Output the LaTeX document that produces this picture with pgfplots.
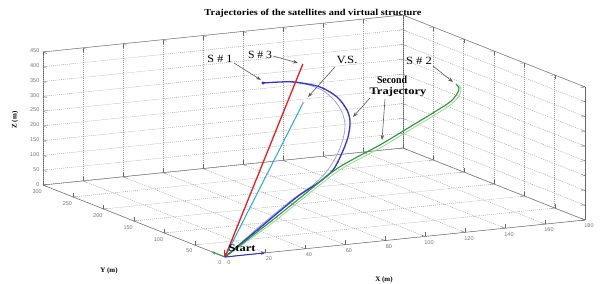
\documentclass[border=0pt]{standalone}
\usepackage{fontspec}
\setmainfont{Liberation Serif}
\setsansfont{Liberation Sans}
\usepackage{pgfplots}
\pgfplotsset{compat=1.18}
\usetikzlibrary{arrows.meta}
\definecolor{sblue}{RGB}{50,50,210}
\definecolor{slilac}{RGB}{160,160,238}
\definecolor{sgreen}{RGB}{40,150,50}
\definecolor{slgreen}{RGB}{150,215,150}
\definecolor{scyan}{RGB}{40,170,215}
\definecolor{sred}{RGB}{235,30,30}
\definecolor{annot}{RGB}{90,90,90}
\begin{document}
\begin{tikzpicture}
\begin{axis}[
  x={(2.0pt,0.2056pt)}, y={(-0.607pt,0.24pt)}, z={(0pt,0.2956pt)},
  xmin=0, xmax=180, ymin=0, ymax=300, zmin=0, zmax=450,
  xtick={0,20,...,180}, ytick={0,50,...,300}, ztick={0,50,...,450},
  grid=major,
  major grid style={dash pattern=on 1pt off 1pt, gray!80, line width=0.4pt},
  axis line style={gray!80!black, line width=0.45pt},
  tick style={gray!80!black},
  tick label style={font=\sffamily\fontsize{5.5}{6}\selectfont, text=gray!90!black},
  /pgf/number format/assume math mode=true,
  clip=false,
]
% second trajectory (S#1)
\addplot3[slilac, line width=0.8pt, smooth, no markers] coordinates {
 (0,0,0) (37.6,66.2,25) (68.9,114.9,55) (82.0,125.1,85) (92.7,137.3,115)
 (100.8,147.7,155) (107.4,159.5,195) (111.9,170.9,230) (114.8,185.6,260)
 (114.8,198.7,290) (112.6,211.4,315) (106.0,217.4,335) (100.0,222.3,342)
};
% second trajectory (S#2)
\addplot3[slgreen, line width=0.8pt, smooth, no markers] coordinates {
 (0,0,0) (42.5,64.2,30) (68.1,99.1,65) (99.4,139.7,110) (124.3,152.7,160)
 (145.6,168.5,200) (155.2,167.1,235) (164.1,168.4,265) (168.4,169.4,290)
 (171.8,177.2,305) (172.0,181.3,315)
};
% S#1
\addplot3[sblue, line width=1.3pt, smooth, no markers] coordinates {
 (0,0,0) (38.4,65.5,25) (72.5,120.2,55) (85.9,130.0,85) (96.1,138.6,115)
 (104.8,152.6,155) (111.4,164.4,195) (116.9,179.1,230) (118.8,190.5,260)
 (119.0,207.6,290) (114.9,222.0,315) (104.0,227.4,335) (96.0,225.7,342)
 (85.9,220.4,350)
};
\addplot3[sblue, only marks, mark=*, mark size=1.3pt] coordinates {(85.9,220.4,350)};
% S#2
\addplot3[sgreen, line width=1.1pt, smooth, no markers] coordinates {
 (0,0,0) (44.1,71.1,30) (69.7,106.1,65) (101.5,148.4,110) (126.4,161.3,160)
 (147.8,177.1,200) (157.3,175.8,235) (166.2,177.0,265) (169.6,176.7,290)
 (172.0,181.2,305) (171.8,185.7,315)
};
% virtual structure
\addplot3[scyan, line width=1.0pt, no markers] coordinates {(0,0,0) (96.5,189.4,300)};
\addplot3[pink!80!red, only marks, mark=*, mark size=1.1pt] coordinates {(96.5,189.4,300)};
% S#3
\addplot3[sred, line width=1.3pt, no markers] coordinates {(0,0,0) (106,221,400)};
% start vectors
\addplot3[sblue, line width=1pt, -{Stealth[length=4pt,width=3pt]}] coordinates {(0,0,0) (20,0,0)};
\addplot3[sgreen, line width=0.9pt, -{Stealth[length=4pt,width=3pt]}] coordinates {(0,0,0) (0,22,0)};
\addplot3[sred, line width=1pt] coordinates {(0,0,0) (0,0,25)};
\coordinate (O) at (axis cs:0,0,0);
\end{axis}
\begin{scope}[shift={(O)}, x=1pt, y=-1pt, shift={(-225,-257)}]
\node[inner sep=0pt] at (313,13) {\resizebox{217pt}{\height}{\bfseries\fontsize{9}{10}\selectfont Trajectories of the satellites and virtual structure}};
\node[inner sep=0pt] at (384,280) {\bfseries\fontsize{7}{8}\selectfont X (m)};
\node[inner sep=0pt] at (109,271) {\bfseries\fontsize{7}{8}\selectfont Y (m)};
\node[inner sep=0pt, rotate=90] at (15,120) {\bfseries\fontsize{7}{8}\selectfont Z (m)};
\tikzset{ann/.style={-{Stealth[length=5pt,width=3.5pt]}, annot, line width=0.6pt}}
\node[inner sep=0pt] at (220,59) {\resizebox{25pt}{\height}{\fontsize{11}{12}\selectfont S \# 1}};
\draw[ann] (234,63) -- (261,80);
\node[inner sep=0pt] at (260,55) {\resizebox{24pt}{\height}{\fontsize{11}{12}\selectfont S \# 3}};
\draw[ann] (273,56) -- (298,63);
\node[inner sep=0pt] at (347,60) {\resizebox{21pt}{\height}{\fontsize{11}{12}\selectfont V.S.}};
\draw[ann] (335,67) -- (308,97);
\node[inner sep=0pt] at (392,80) {\resizebox{30pt}{\height}{\bfseries\fontsize{10.5}{11}\selectfont Second}};
\node[inner sep=0pt] at (398,92) {\resizebox{57pt}{\height}{\bfseries\fontsize{10}{11}\selectfont Trajectory}};
\draw[ann] (370,98) -- (353,117);
\draw[ann] (385,99) -- (382,140);
\node[inner sep=0pt] at (419,61) {\resizebox{26pt}{\height}{\fontsize{11}{12}\selectfont S \# 2}};
\draw[ann] (433,66) -- (453,82);
\node[inner sep=0pt] at (242,248) {\resizebox{27pt}{\height}{\bfseries\fontsize{10}{11}\selectfont Start}};
\pgfresetboundingbox
\path[use as bounding box] (0,0) rectangle (603,284);
\end{scope}
\end{tikzpicture}
\end{document}
